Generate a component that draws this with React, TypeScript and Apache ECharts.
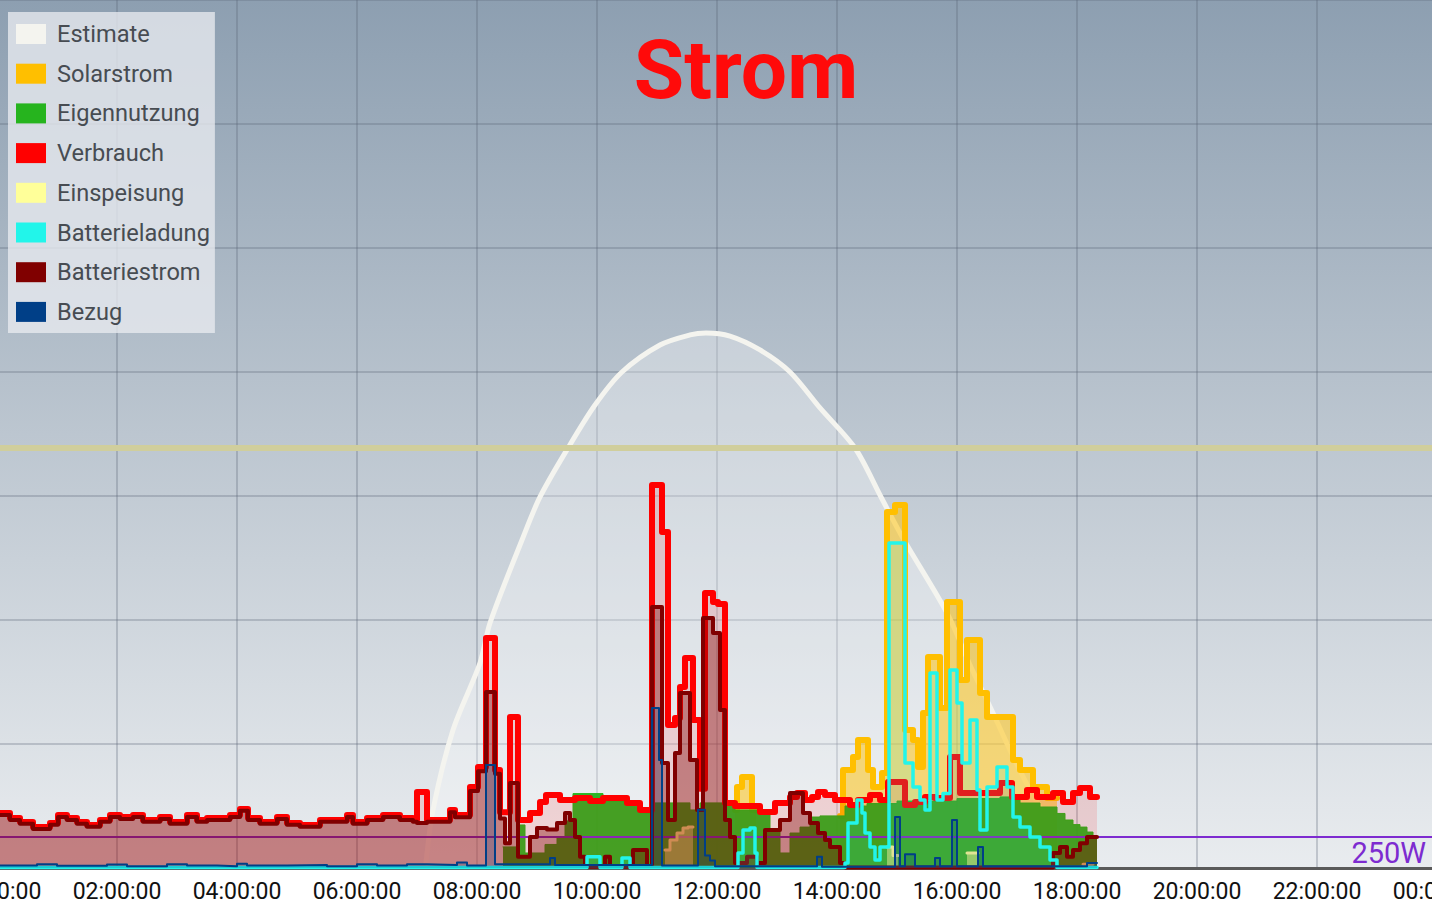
import React, { useEffect, useRef } from "react";
import * as echarts from "echarts";

type P = [string, number | null];

const xTicks = ["00:00:00", "02:00:00", "04:00:00", "06:00:00", "08:00:00", "10:00:00", "12:00:00", "14:00:00", "16:00:00", "18:00:00", "20:00:00", "22:00:00", "00:00:00"];

const estimate: P[] = [
  ["07:09", 40], ["07:16", 468], ["07:36", 1113], ["08:03", 1653], ["08:13", 1976], ["08:45", 2645], ["09:03", 2992],
  ["09:31", 3387], ["09:58", 3734], ["10:25", 4000], ["11:03", 4218], ["11:33", 4299], ["11:49", 4315], ["12:13", 4290],
  ["12:43", 4178], ["13:13", 4000], ["13:43", 3710], ["14:18", 3387], ["14:44", 2992], ["15:07", 2645], ["15:50", 2057],
  ["16:13", 1637], ["16:36", 1250], ["16:53", 952], ["17:13", 629], ["17:33", 371], ["17:53", 185], ["18:18", 48],
];

const solarstrom: P[] = [
  ["12:18", 468], ["12:20", 653], ["12:25", 734], ["12:35", 468], ["12:38", 468], ["12:39", null],
  ["14:03", 420], ["14:06", 790], ["14:16", 895], ["14:21", 1032], ["14:31", 790], ["14:36", 653], ["14:45", 766],
  ["14:50", 2871], ["14:58", 2928], ["15:08", 1113], ["15:16", 1032], ["15:21", 815], ["15:26", 1250], ["15:31", 1702],
  ["15:43", 1290], ["15:50", 2145], ["16:03", 1516], ["16:10", 1839], ["16:23", 1411], ["16:30", 1218], ["16:56", 871],
  ["17:03", 790], ["17:16", 653], ["17:30", 565], ["17:40", 565],
];

const eigennutzung: P[] = [
  ["08:26", 170], ["08:40", 347], ["08:48", 121], ["09:08", 190], ["09:20", 250], ["09:28", 380], ["09:36", 600],
  ["10:06", 540], ["10:30", 524], ["10:43", 443], ["10:55", 525], ["11:33", 468], ["11:43", 525], ["12:18", 468],
  ["12:53", 306], ["13:03", 121], ["13:13", 282], ["13:23", 330], ["13:33", 411], ["13:43", 420], ["14:08", 500],
  ["14:30", 520], ["15:00", 540], ["16:00", 560], ["16:43", 573], ["17:03", 524], ["17:23", 492], ["17:40", 440],
  ["17:48", 387], ["17:56", 350], ["18:03", 330], ["18:10", 290], ["18:16", 250], ["18:20", 250],
];

const verbrauch: P[] = [
  ["00:00", 443], ["00:13", 403], ["00:23", 371], ["00:36", 330], ["00:53", 363], ["01:01", 427], ["01:10", 403],
  ["01:20", 371], ["01:30", 347], ["01:43", 387], ["01:53", 427], ["02:03", 411], ["02:16", 427], ["02:26", 387],
  ["02:43", 411], ["02:53", 371], ["03:10", 427], ["03:20", 387], ["03:30", 403], ["03:53", 427], ["04:03", 476],
  ["04:11", 403], ["04:23", 371], ["04:40", 411], ["04:50", 363], ["05:03", 347], ["05:23", 387], ["05:50", 427],
  ["05:56", 371], ["06:10", 403], ["06:26", 427], ["06:43", 403], ["06:56", 387], ["07:00", 613], ["07:10", 387],
  ["07:33", 468], ["07:38", 427], ["07:53", 653], ["08:01", 815], ["08:09", 1855], ["08:18", 790], ["08:23", 450],
  ["08:33", 1218], ["08:41", 387], ["08:53", 443], ["09:03", 532], ["09:09", 589], ["09:23", 548], ["09:38", 565],
  ["09:53", 540], ["10:06", 565], ["10:30", 524], ["10:43", 468], ["10:55", 3089], ["11:05", 2710], ["11:11", 1153],
  ["11:18", 1210], ["11:23", 1460], ["11:28", 1694], ["11:36", 1194], ["11:43", 640], ["11:48", 2218], ["11:56", 2145],
  ["12:01", 2130], ["12:08", 524], ["12:18", 500], ["12:43", 452], ["12:58", 524], ["13:13", 573], ["13:20", 605],
  ["13:28", 548], ["13:35", 573], ["13:41", 613], ["13:48", 589], ["13:58", 548], ["14:13", 508], ["14:21", 548],
  ["14:33", 589], ["14:43", 548], ["14:51", 694], ["15:08", 508], ["15:18", 532], ["15:28", 573], ["15:38", 565],
  ["15:53", 895], ["16:03", 605], ["16:43", 685], ["16:55", 573], ["17:10", 629], ["17:20", 573], ["17:36", 605],
  ["17:46", 532], ["17:56", 605], ["18:03", 645], ["18:13", 573], ["18:20", 573],
];

const einspeisung: P[] = [
  ["11:08", 145], ["11:13", 226], ["11:20", 282], ["11:26", 323], ["11:31", 330], ["11:35", 330], ["11:36", null],
  ["14:50", 170], ["14:56", 100], ["15:00", 100], ["15:01", null],
  ["16:10", 120], ["16:20", 120], ["16:21", null],
  ["18:06", 30], ["18:16", 30],
];

const batterieladung: P[] = [
  ["00:00", 5], ["09:50", 90], ["10:03", 5], ["10:25", 80], ["10:33", 5], ["12:21", 121], ["12:26", 306],
  ["12:33", 323], ["12:38", 121], ["12:40", 5], ["14:08", 40], ["14:11", 363], ["14:20", 548], ["14:25", 443],
  ["14:28", 282], ["14:33", 169], ["14:38", 65], ["14:43", 169], ["14:52", 2621], ["15:08", 847], ["15:16", 653],
  ["15:23", 548], ["15:28", 468], ["15:33", 1573], ["15:40", 548], ["15:46", 600], ["15:53", 1597], ["16:00", 1331],
  ["16:05", 847], ["16:13", 1194], ["16:20", 629], ["16:23", 306], ["16:30", 653], ["16:40", 815], ["16:50", 653],
  ["16:56", 411], ["17:03", 330], ["17:13", 250], ["17:23", 169], ["17:33", 65], ["17:40", 5], ["18:20", 5],
];

const batteriestrom: P[] = [
  ["00:00", 428], ["00:13", 388], ["00:23", 356], ["00:36", 315], ["00:53", 348], ["01:01", 412], ["01:10", 388],
  ["01:20", 356], ["01:30", 332], ["01:43", 372], ["01:53", 412], ["02:03", 396], ["02:16", 412], ["02:26", 372],
  ["02:43", 396], ["02:53", 356], ["03:10", 412], ["03:20", 372], ["03:30", 388], ["03:53", 412], ["04:03", 461],
  ["04:11", 388], ["04:23", 356], ["04:40", 396], ["04:50", 348], ["05:03", 332], ["05:23", 372], ["05:50", 412],
  ["05:56", 356], ["06:10", 388], ["06:26", 412], ["06:43", 388], ["06:56", 372], ["07:00", 363], ["07:10", 372],
  ["07:33", 450], ["07:38", 410], ["07:53", 620], ["08:01", 780], ["08:09", 1420], ["08:18", 760], ["08:23", 400],
  ["08:28", 200], ["08:33", 685], ["08:41", 90], ["08:53", 250], ["09:00", 323], ["09:10", 310], ["09:20", 363],
  ["09:28", 443], ["09:33", 387], ["09:38", 250], ["09:43", 90], ["09:48", 10], ["10:08", 90], ["10:13", 10],
  ["10:36", 145], ["10:50", 10], ["10:55", 2105], ["11:05", 847], ["11:11", 387], ["11:18", 927], ["11:23", 1411],
  ["11:33", 870], ["11:40", 468], ["11:46", 2016], ["11:56", 1895], ["12:03", 1274], ["12:08", 387], ["12:13", 250],
  ["12:18", 40], ["12:30", 90], ["12:40", 40], ["12:48", 306], ["13:03", 387], ["13:13", 605], ["13:26", 443],
  ["13:33", 363], ["13:41", 282], ["13:48", 226], ["13:53", 169], ["14:03", 40], ["14:08", 5], ["17:36", 121],
  ["17:43", 169], ["17:50", 90], ["17:56", 145], ["18:03", 200], ["18:10", 250], ["18:20", 250],
];

const bezug: P[] = [
  ["00:00", 20], ["00:40", 30], ["01:00", 18], ["01:50", 28], ["02:10", 15], ["02:50", 30], ["03:10", 20],
  ["03:40", 15], ["04:00", 35], ["04:10", 20], ["04:50", 25], ["05:30", 15], ["06:00", 30], ["06:20", 20],
  ["06:50", 30], ["07:10", 25], ["07:40", 45], ["07:50", 20], ["08:09", 830], ["08:18", 30], ["09:13", 80],
  ["09:18", 25], ["10:55", 1290], ["11:02", 870], ["11:05", 20], ["11:41", 470], ["11:48", 100], ["11:53", 60],
  ["11:58", 15], ["13:40", 90], ["13:45", 10], ["14:58", 411], ["15:03", 15], ["15:08", 110], ["15:18", 15],
  ["15:38", 80], ["15:43", 15], ["15:55", 387], ["16:00", 15], ["16:21", 169], ["16:26", 15], ["18:10", 40],
  ["18:20", 40],
];

const limitLine = 3390;
const baseLine = 250;

const toMin = (t: string) => {
  const [h, m] = t.split(":").map(Number);
  return h * 60 + m;
};
const pts = (arr: P[]) => arr.map(([t, v]) => [toMin(t), v === null ? "-" : v]);

function mk(name: string, data: P[], color: string, width: number, area: string, z: number, extra: any = {}) {
  return {
    name,
    type: "line",
    data: pts(data),
    step: "end",
    showSymbol: false,
    symbol: "none",
    z,
    itemStyle: { color },
    lineStyle: { color, width, cap: "round", join: "round" },
    areaStyle: { color: area, origin: "start", opacity: 1 },
    emphasis: { disabled: true },
    animation: false,
    ...extra,
  };
}

export default function App() {
  const ref = useRef<HTMLDivElement>(null);
  useEffect(() => {
    document.body.style.margin = "0";
    if (!ref.current) return;
    const chart = echarts.init(ref.current, undefined, { renderer: "svg" });
    const names = ["Estimate", "Solarstrom", "Eigennutzung", "Verbrauch", "Einspeisung", "Batterieladung", "Batteriestrom", "Bezug"];
    const splitColor = "rgba(90,100,115,0.38)";
    chart.setOption({
      animation: false,
      textStyle: { fontFamily: "Roboto" },
      grid: {
        left: -3,
        right: -5,
        top: 0,
        bottom: 39,
        containLabel: false,
        outerBoundsMode: "none",
        show: true,
        borderWidth: 0,
        backgroundColor: {
          type: "linear", x: 0, y: 0, x2: 0, y2: 1,
          colorStops: [
            { offset: 0, color: "#8d9fb1" },
            { offset: 0.5, color: "#bcc6d0" },
            { offset: 1, color: "#e9ecef" },
          ],
        },
      },
      graphic: [
        {
          type: "text",
          x: 746,
          y: 70,
          z: 100,
          style: {
            text: "Strom",
            fill: "#ff0a0a",
            fontSize: 82,
            fontWeight: "bold",
            fontFamily: "Roboto",
            align: "center",
            verticalAlign: "middle",
          },
        },
      ],
      legend: {
        data: names,
        orient: "vertical",
        left: 8,
        top: 12,
        itemWidth: 30,
        itemHeight: 20,
        itemGap: 15.7,
        icon: "rect",
        padding: [10, 5, 9, 8],
        backgroundColor: "rgba(232,235,240,0.78)",
        selectedMode: false,
        itemStyle: { borderWidth: 0 },
        textStyle: { fontSize: 23.6, color: "#474c52", fontFamily: "Roboto", padding: [0, 0, 0, 6] },
      },
      xAxis: {
        type: "value",
        min: 0,
        max: 1440,
        interval: 120,
        axisLine: { show: true, lineStyle: { color: "#5a5a5a", width: 3 } },
        axisTick: { show: false },
        axisLabel: {
          fontSize: 23,
          color: "#111",
          fontFamily: "Roboto",
          margin: 12,
          showMinLabel: true,
          showMaxLabel: true,
          hideOverlap: false,
          formatter: (v: number) => xTicks[Math.round(v / 120)] ?? "",
        },
        splitLine: { show: true, lineStyle: { color: splitColor, width: 1.5 } },
      },
      yAxis: {
        type: "value",
        min: 0,
        max: 7000,
        interval: 1000,
        axisLabel: { show: false },
        axisLine: { show: false },
        axisTick: { show: false },
        splitLine: { show: true, lineStyle: { color: splitColor, width: 1.5 } },
      },
      series: [
        {
          name: "__limit",
          type: "line",
          data: [],
          z: 1,
          silent: true,
          markLine: {
            silent: true,
            symbol: ["none", "none"],
            animation: false,
            label: { show: false },
            lineStyle: { color: "#d0ce9c", width: 6, type: "solid", opacity: 1 },
            data: [{ yAxis: limitLine }],
          },
        },
        {
          name: "__base",
          type: "line",
          data: [],
          z: 1,
          silent: true,
          markLine: {
            silent: true,
            symbol: ["none", "none"],
            animation: false,
            lineStyle: { color: "#7d2bd0", width: 2, type: "solid", opacity: 1 },
            label: {
              show: true,
              position: "insideEndBottom",
              formatter: baseLine + "W",
              color: "#7d2bd0",
              fontSize: 29,
              fontFamily: "Roboto",
              distance: [11, 1],
            },
            data: [{ yAxis: baseLine }],
          },
        },
        {
          ...mk("Estimate", estimate, "#f4f4ef", 5, "rgba(255,255,255,0.3)", 2),
          step: false,
          smooth: 0.3,
        },
        mk("Solarstrom", solarstrom, "#ffbf00", 6, "rgba(255,191,0,0.5)", 3),
        mk("Eigennutzung", eigennutzung, "#26b41e", 1, "rgba(34,178,28,0.95)", 4),
        mk("Verbrauch", verbrauch, "#ff0000", 6, "rgba(255,0,0,0.12)", 6),
        mk("Einspeisung", einspeisung, "#ffff99", 3, "rgba(255,255,153,0.55)", 5),
        mk("Batterieladung", batterieladung, "#22f5ea", 3.5, "rgba(0,255,255,0.12)", 8),
        mk("Batteriestrom", batteriestrom, "#800000", 4, "rgba(128,0,0,0.38)", 7),
        mk("Bezug", bezug, "#003f87", 2, "rgba(0,63,135,0.22)", 9),
      ],
    });
    return () => chart.dispose();
  }, []);
  return <div ref={ref} style={{ width: 1432, height: 907 }} />;
}
